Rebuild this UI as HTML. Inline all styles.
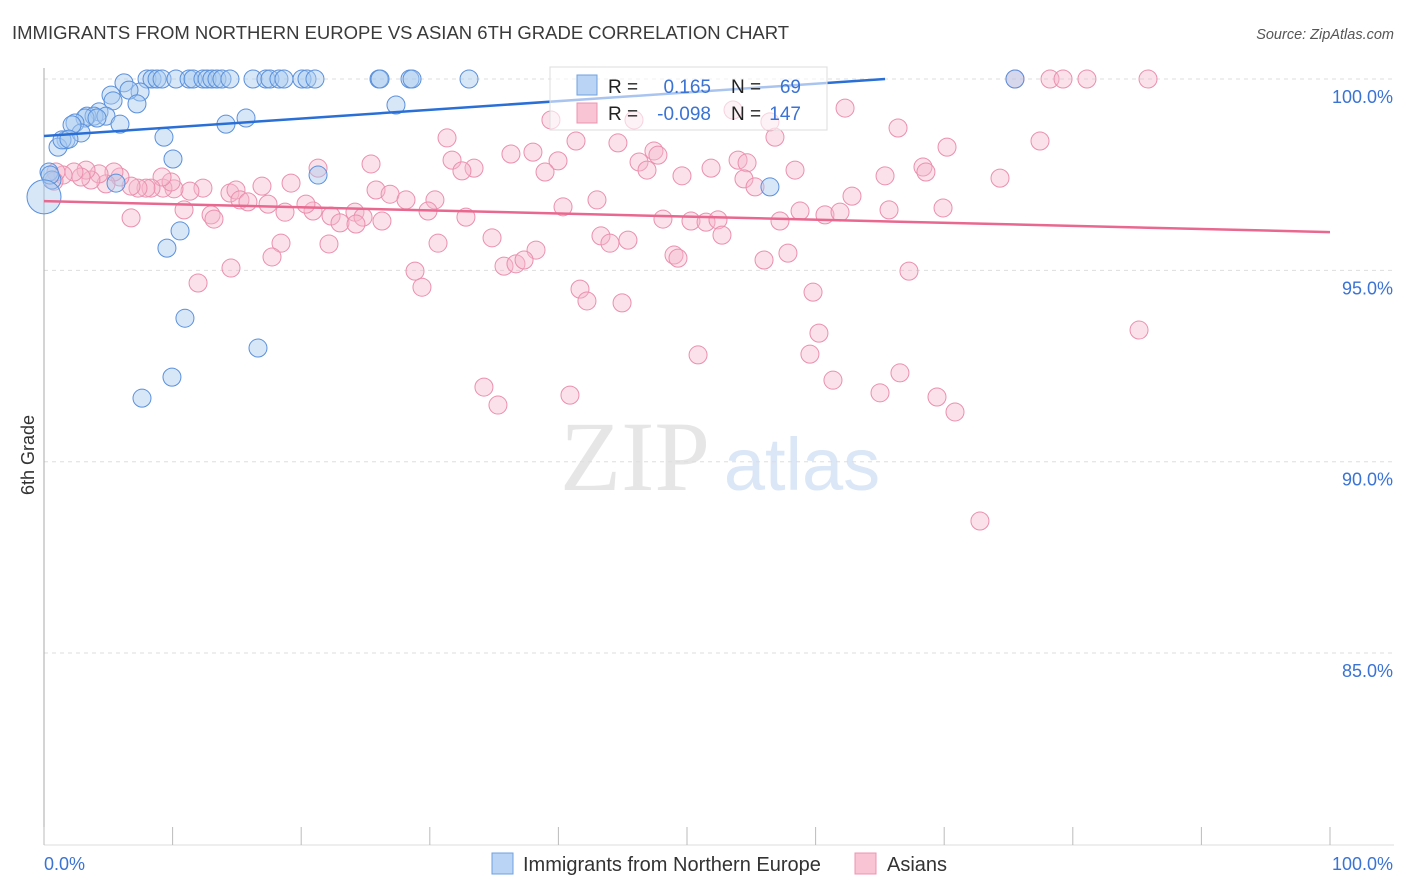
<!DOCTYPE html>
<html><head><meta charset="utf-8"><style>
body{margin:0;background:#fff;font-family:"Liberation Sans",sans-serif}
#wrap{position:relative;width:1406px;height:892px;overflow:hidden}
</style></head><body>
<div id="wrap">
<svg id="svg" width="1406" height="892" xmlns="http://www.w3.org/2000/svg">
<text x="12" y="39" font-size="18.5" fill="#3a3a3a">IMMIGRANTS FROM NORTHERN EUROPE VS ASIAN 6TH GRADE CORRELATION CHART</text>
<text x="1394" y="39" font-size="14.5" fill="#555" text-anchor="end" font-style="italic">Source: ZipAtlas.com</text>
<text x="34" y="455" font-size="18" fill="#333" text-anchor="middle" transform="rotate(-90 34 455)">6th Grade</text>
<g><text x="635" y="490" font-size="100" fill="#e6e6e6" font-family="Liberation Serif" text-anchor="middle">ZIP</text><text x="802" y="490" font-size="74" fill="#dbe7f6" text-anchor="middle">atlas</text></g>
<g id="grid"></g><g id="pts"></g><g id="trend"></g>
<g>
<rect x="550" y="67" width="277" height="63" fill="#fff" fill-opacity="0.6" stroke="#ddd"/>
<rect x="577" y="75" width="20" height="20" fill="#b9d4f5" stroke="#6fa0e0"/>
<rect x="577" y="103" width="20" height="20" fill="#f9c4d4" stroke="#ec94b0"/>
<text x="608" y="93" font-size="19" fill="#222">R = </text><text x="711" y="93" font-size="19" fill="#3a73d4" text-anchor="end">0.165</text>
<text x="731" y="93" font-size="19" fill="#222">N = </text><text x="801" y="93" font-size="19" fill="#3a73d4" text-anchor="end">69</text>
<text x="608" y="120" font-size="19" fill="#222">R = </text><text x="711" y="120" font-size="19" fill="#3a73d4" text-anchor="end">-0.098</text>
<text x="731" y="120" font-size="19" fill="#222">N = </text><text x="801" y="120" font-size="19" fill="#3a73d4" text-anchor="end">147</text>
</g>
<g>
<rect x="492" y="853" width="21" height="21" fill="#b9d4f5" stroke="#6fa0e0"/>
<text x="523" y="871" font-size="20" fill="#333">Immigrants from Northern Europe</text>
<rect x="855" y="853" width="21" height="21" fill="#f9c4d4" stroke="#ec94b0"/>
<text x="887" y="871" font-size="20" fill="#333">Asians</text>
</g>
</svg>
</div>
<script>
const blueX=[6.22,8.01,8.40,8.79,9.18,10.26,11.28,11.59,12.36,12.68,13.06,13.45,13.84,14.46,16.25,17.26,17.57,18.27,18.66,20.06,20.45,21.07,26.05,26.13,28.46,28.62,33.05,75.5,7.47,5.21,6.61,7.23,5.37,4.28,3.34,3.89,4.82,3.19,4.12,5.91,2.41,1.71,1.09,2.88,2.18,9.33,14.15,15.71,27.37,1.40,1.94,10.03,21.31,5.60,0.39,0.62,10.58,9.56,10.96,16.64,9.95,7.62,56.45,0.47];
const blueY=[99.9,100,100,100,100,100,100,100,100,100,100,100,100,100,100,100,100,100,100,100,100,100,100,100,100,100,100,100,99.66,99.58,99.71,99.35,99.43,99.14,99.03,99.03,99.03,98.98,98.98,98.82,98.85,98.41,98.22,98.59,98.80,98.48,98.82,98.98,99.32,98.41,98.43,97.91,97.49,97.28,97.57,97.36,96.03,95.58,93.75,92.97,92.21,91.66,97.18,97.49];
const pinkX=[75.51,78.23,79.24,81.10,85.85,62.29,56.45,56.84,53.58,39.42,45.88,66.41,77.45,70.22,31.34,41.37,44.63,36.31,38.02,47.43,47.74,53.97,54.67,46.27,39.97,31.73,33.44,32.50,38.96,46.89,49.61,51.87,54.43,58.40,65.40,68.35,68.58,74.34,25.43,21.31,19.21,16.95,25.82,26.91,28.15,30.40,29.86,43.00,40.36,48.13,50.31,51.48,52.41,55.29,57.23,58.79,60.73,61.90,62.83,65.71,69.91,52.72,43.31,45.41,44.01,34.84,38.26,32.81,30.64,22.32,23.02,24.18,24.81,26.28,20.92,20.37,18.74,24.26,22.16,18.43,17.73,14.46,14.93,15.24,15.86,17.42,12.99,13.22,10.89,12.36,11.35,10.11,9.25,9.88,9.18,8.32,7.93,7.31,6.77,5.91,5.44,4.82,4.28,3.65,3.27,2.88,2.33,1.48,0.93,0.78,6.77,11.98,14.54,28.85,29.39,35.77,36.70,37.33,48.99,49.30,55.99,57.85,67.26,41.68,42.22,44.95,59.80,60.26,50.86,59.56,61.35,65.01,66.56,69.44,70.84,34.21,35.30,40.90,85.15,72.78];
const pinkY=[100,100,100,100,100,99.24,98.88,98.48,99.19,98.93,98.93,98.72,98.38,98.22,98.46,98.38,98.33,98.04,98.09,98.12,98.01,97.88,97.81,97.83,97.86,97.88,97.67,97.60,97.57,97.62,97.47,97.67,97.39,97.62,97.47,97.70,97.57,97.41,97.78,97.67,97.28,97.20,97.10,96.99,96.84,96.84,96.55,96.84,96.66,96.34,96.29,96.26,96.32,97.18,96.29,96.55,96.45,96.52,96.94,96.58,96.63,95.92,95.90,95.79,95.71,95.85,95.53,96.39,95.71,96.42,96.24,96.52,96.39,96.29,96.55,96.73,96.52,96.21,95.69,95.71,95.35,97.02,97.10,96.84,96.79,96.73,96.45,96.34,96.58,97.15,97.07,97.13,97.15,97.31,97.44,97.15,97.15,97.15,97.20,97.44,97.57,97.26,97.52,97.36,97.62,97.44,97.57,97.49,97.57,97.33,96.37,94.67,95.06,94.98,94.56,95.11,95.17,95.27,95.40,95.32,95.27,95.45,94.98,94.51,94.20,94.15,94.43,93.36,92.79,92.81,92.13,91.80,92.32,91.69,91.30,91.95,91.48,91.74,93.44,88.45];
const blueTrendX=[0,65.4];const blueTrendY=[98.51,100];
const pinkTrendX=[0,100];const pinkTrendY=[96.81,96.0];
const yTicks=[100,95,90,85];const yTickLabels=["100.0%","95.0%","90.0%","85.0%"];
const xTicks=[0,10,20,30,40,50,60,70,80,90,100];
const NS="http://www.w3.org/2000/svg";
const sx=v=>44+v*12.86, sy=v=>79+(100-v)*38.27;
function mk(t,a,p){const e=document.createElementNS(NS,t);for(const k in a)e.setAttribute(k,a[k]);p.appendChild(e);return e;}
const grid=document.getElementById('grid');
yTicks.forEach((t,i)=>{
 const l=mk('line',{x1:44,x2:1394,y1:sy(t),y2:sy(t),stroke:'#ddd','stroke-dasharray':'4 4'},grid);
 
 
 const tx=mk('text',{x:1393,y:sy(t)+24,'font-size':18,fill:'#3a73d4','text-anchor':'end'},grid);
 tx.textContent=yTickLabels[i];
 
 
});
const ax=mk('line',{x1:44,x2:44,y1:68,y2:845,stroke:'#aaa'},grid);


const bx=mk('line',{x1:44,x2:1394,y1:845,y2:845,stroke:'#ddd'},grid);


xTicks.forEach(t=>{
 const l=mk('line',{x1:sx(t),x2:sx(t),y1:827,y2:845,stroke:'#bbb'},grid);
 
 
});
[[0,"0.0%",'start',44],[100,"100.0%",'end',1393]].forEach(a=>{
 const t=mk('text',{x:a[3],y:870,'font-size':18,fill:'#3a73d4','text-anchor':a[2]},grid);
 t.textContent=a[1];
 
 
});
const pts=document.getElementById('pts');
pinkX.forEach((x,i)=>{
 const c=mk('circle',{cx:sx(x),cy:sy(pinkY[i]),r:9,fill:'#f6b6ca','fill-opacity':0.4,stroke:'#eb8fae','stroke-width':1},pts);
 
 
});
blueX.forEach((x,i)=>{
 const c=mk('circle',{cx:sx(x),cy:sy(blueY[i]),r:9,fill:'#a9c9f0','fill-opacity':0.45,stroke:'#5a90dc','stroke-width':1},pts);
 
 
});
const big=mk('circle',{cx:sx(0),cy:sy(96.92),r:17,fill:'#a9c9f0','fill-opacity':0.45,stroke:'#5a90dc'},pts);


const tr=document.getElementById('trend');
const b=mk('line',{x1:sx(blueTrendX[0]),y1:sy(blueTrendY[0]),x2:sx(blueTrendX[1]),y2:sy(blueTrendY[1]),stroke:'#2a6fd6','stroke-width':2.5},tr);


const p=mk('line',{x1:sx(pinkTrendX[0]),y1:sy(pinkTrendY[0]),x2:sx(pinkTrendX[1]),y2:sy(pinkTrendY[1]),stroke:'#e8688f','stroke-width':2.5},tr);


</script>
</body></html>
